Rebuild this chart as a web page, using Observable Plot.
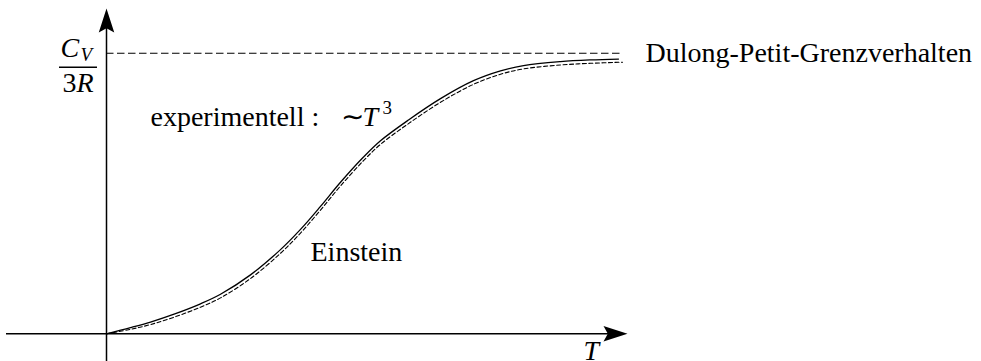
<!DOCTYPE html>
<html>
<head>
<meta charset="utf-8">
<script src="https://cdn.jsdelivr.net/npm/d3@7"></script>
<script src="https://cdn.jsdelivr.net/npm/@observablehq/plot@0.6"></script>
<style>
  html, body { margin: 0; padding: 0; background: #fff; }
  #chart svg { display: block; }
</style>
</head>
<body>
<div id="chart"></div>
<script>
// Temperature (arbitrary units) and heat capacity C_V / 3R
const temperature = [0, 0.24, 0.44, 0.69, 0.94, 1.14, 1.44, 1.74, 1.94, 2.14, 2.34, 2.57, 2.74, 3.02, 3.34, 3.67, 3.94, 4.17, 4.54, 4.84, 5.12];
const experimental = [0, 0.022, 0.042, 0.072, 0.107, 0.141, 0.210, 0.300, 0.372, 0.454, 0.540, 0.630, 0.688, 0.762, 0.838, 0.902, 0.937, 0.956, 0.970, 0.976, 0.979];

const einsteinTemperature = [0, 0.24, 0.44, 0.69, 0.94, 1.14, 1.44, 1.74, 1.94, 2.14, 2.34, 2.57, 2.74, 3.02, 3.34, 3.67, 3.94, 4.17, 4.54, 4.84, 5.16];
const einstein = [0, 0.016, 0.033, 0.061, 0.095, 0.128, 0.197, 0.287, 0.359, 0.441, 0.527, 0.617, 0.675, 0.749, 0.825, 0.889, 0.925, 0.944, 0.958, 0.964, 0.968];

// Dulong-Petit limit and its extent along T
const dulongPetit = 1;
const dulongPetitExtent = [0, 5.17];

// Axis extents (arrow tips at the upper ends)
const tAxisExtent = [-1.0, 5.21];
const cAxisExtent = [-0.099, 1.159];

// Fraction bar of the C_V / 3R label
const fractionBar = { v: 0.950, t1: -0.47, t2: -0.09 };

// Text labels: position in (T, C_V/3R), text, size
const uprightLabels = [
  { t: 5.39, v: 0.967, text: "Dulong-Petit-Grenzverhalten", size: 28 },
  { t: 2.04, v: 0.261, text: "Einstein", size: 28 },
  { t: 0.44, v: 0.739, text: "experimentell :", size: 28 },
  { t: 2.34, v: 0.739, text: "\u223C", size: 28 },
  { t: 2.76, v: 0.785, text: "3", size: 19 },
  { t: -0.44, v: 0.860, text: "3", size: 28 }
];
const italicLabels = [
  { t: 2.56, v: 0.739, text: "T", size: 28 },
  { t: -0.46, v: 0.985, text: "C", size: 28 },
  { t: -0.26, v: 0.972, text: "V", size: 19 },
  { t: -0.30, v: 0.860, text: "R", size: 28 },
  { t: 4.77, v: -0.095, text: "T", size: 28 }
];

const experimentalData = temperature.map((t, i) => ({ t, v: experimental[i] }));
const einsteinData = einsteinTemperature.map((t, i) => ({ t, v: einstein[i] }));

// Filled "stealth" arrowhead pointing along +x, tip at the origin
const stealth = {
  draw(context) {
    const L = 24, W = 15.5;
    context.moveTo(0, 0);
    context.lineTo(-L, -W / 2);
    context.lineTo(-0.82 * L, 0);
    context.lineTo(-L, W / 2);
    context.closePath();
  }
};

const arrowTips = [
  { t: tAxisExtent[1], v: 0, angle: 0 },
  { t: 0, v: cAxisExtent[1], angle: -90 }
];

const serif = "Liberation Serif";

const chart = Plot.plot({
  width: 981,
  height: 361,
  margin: 0,
  x: { domain: [-1.06, 8.75], range: [0, 981], axis: null },
  y: { domain: [-0.0987, 1.1878], range: [361, 0], axis: null },
  style: { background: "#fff", color: "#000" },
  marks: [
    // axes
    Plot.ruleY([0], { x1: tAxisExtent[0], x2: tAxisExtent[1] - 0.05, stroke: "#000", strokeWidth: 1.5 }),
    Plot.ruleX([0], { y1: cAxisExtent[0], y2: cAxisExtent[1] - 0.05, stroke: "#000", strokeWidth: 1.5 }),
    Plot.dot(arrowTips, { x: "t", y: "v", rotate: "angle", symbol: stealth, fill: "#000", stroke: "none" }),
    // Dulong-Petit limit
    Plot.ruleY([dulongPetit], { x1: dulongPetitExtent[0], x2: dulongPetitExtent[1], stroke: "#000", strokeWidth: 1.1, strokeDasharray: "7.5,3.5" }),
    // Einstein model
    Plot.line(einsteinData, { x: "t", y: "v", curve: "catmull-rom", stroke: "#000", strokeWidth: 1.1, strokeDasharray: "4,2.5" }),
    // experimental curve
    Plot.line(experimentalData, { x: "t", y: "v", curve: "catmull-rom", stroke: "#000", strokeWidth: 1.3 }),
    // fraction bar of C_V / 3R
    Plot.ruleY([fractionBar.v], { x1: fractionBar.t1, x2: fractionBar.t2, stroke: "#000", strokeWidth: 1.4 }),
    // labels
    Plot.text(uprightLabels, { x: "t", y: "v", text: "text", fontSize: "size", textAnchor: "start", lineAnchor: "bottom", fill: "#000", fontFamily: serif }),
    Plot.text(italicLabels, { x: "t", y: "v", text: "text", fontSize: "size", textAnchor: "start", lineAnchor: "bottom", fill: "#000", fontStyle: "italic", fontFamily: serif })
  ]
});

document.getElementById("chart").appendChild(chart);
</script>
</body>
</html>
